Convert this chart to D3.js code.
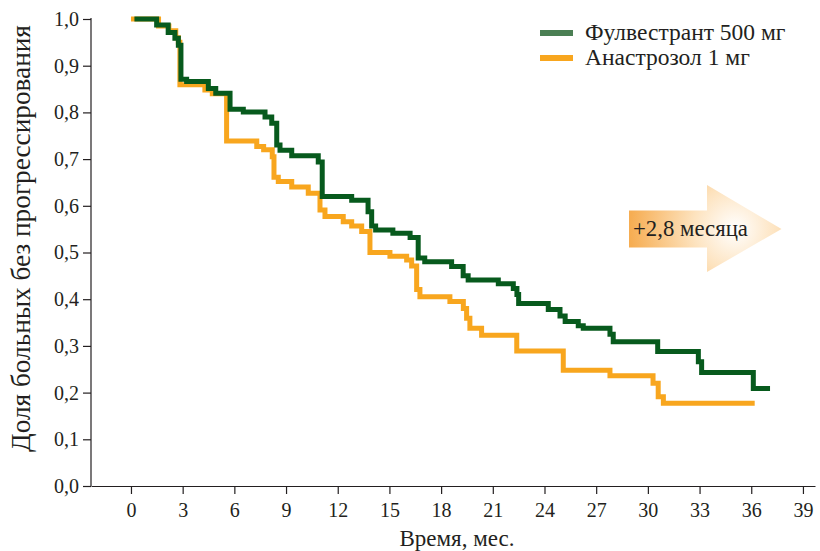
<!DOCTYPE html>
<html><head><meta charset="utf-8">
<script src="https://cdn.jsdelivr.net/npm/d3@7"></script>
<style>
html,body{margin:0;padding:0;background:#fff;}
svg{display:block;}
</style></head>
<body>
<svg id="chart" width="820" height="551"></svg>
<script>
// Data
const seriesNames = ["Фулвестрант 500 мг", "Анастрозол 1 мг"];
const fulvTime = [0.2,1.49,2.16,2.55,2.75,2.9,3.23,4.49,4.92,5.75,6.52,7.78,8.17,8.46,8.65,9.33,10.87,11.1,12.81,13.76,13.97,14.2,15.2,16.2,16.67,17.05,18.61,19.28,19.57,21.32,22.19,22.4,22.5,24.22,24.9,25.2,25.96,26.25,27.8,27.99,30.57,32.93,33.12,36.12,37.09];
const fulvSurv = [1.0,0.987,0.971,0.959,0.944,0.871,0.866,0.851,0.841,0.807,0.801,0.79,0.777,0.73,0.719,0.707,0.694,0.62,0.612,0.587,0.557,0.548,0.541,0.532,0.488,0.48,0.47,0.45,0.441,0.433,0.423,0.41,0.391,0.378,0.364,0.352,0.343,0.338,0.325,0.309,0.288,0.266,0.243,0.209,0.209];
const anasTime = [0,1.6,2.2,2.6,2.75,2.84,4.29,4.72,5.55,7.3,7.7,8.2,8.3,8.55,9.33,10.29,10.97,11.26,12.32,12.81,13.39,13.87,15.03,16.0,16.29,16.58,16.77,18.51,19.29,19.48,19.67,20.35,22.39,25.09,27.8,30.3,30.6,30.9,36.2];
const anasSurv = [1.0,0.985,0.975,0.96,0.95,0.859,0.848,0.84,0.739,0.727,0.72,0.705,0.661,0.652,0.64,0.627,0.591,0.577,0.566,0.557,0.545,0.5,0.492,0.484,0.471,0.421,0.405,0.395,0.38,0.359,0.338,0.323,0.289,0.248,0.236,0.22,0.191,0.177,0.177];
const xTicks = [0,3,6,9,12,15,18,21,24,27,30,33,36,39];
const yTicks = [0,0.1,0.2,0.3,0.4,0.5,0.6,0.7,0.8,0.9,1.0];
const xTitle = "Время, мес.";
const yTitle = "Доля больных без прогрессирования";
const arrowText = "+2,8 месяца";

const FONT = "'Liberation Serif', 'Times New Roman', serif";
const INK = "#231f20";
const colGreen = "#075a1d", colOrange = "#f8a61e", colLegGreen = "#4b7f54";

const svg = d3.select("#chart");
const x = d3.scaleLinear().domain([-2.32, 39.7]).range([91, 815]);
const y = d3.scaleLinear().domain([0, 1]).range([486, 19]);

function styleText(sel, size) {
  sel.attr("style", `font-family:${FONT};font-size:${size}px;fill:${INK}`);
  return sel;
}
// fit a text element to a target width by adjusting its font-size
function fitText(sel, target) {
  const node = sel.node();
  let size = 20;
  styleText(sel, size);
  const w = node.getComputedTextLength();
  if (w > 0) { size = size * target / w; styleText(sel, size); }
  return sel;
}

// axes
const fmt = v => d3.format(".1f")(v).replace(".", ",");
const gy = svg.append("g").attr("transform", "translate(91,0)")
  .call(d3.axisLeft(y).tickValues(yTicks).tickFormat(fmt).tickSize(8).tickSizeOuter(0).tickPadding(4));
const gx = svg.append("g").attr("transform", "translate(0,486)")
  .call(d3.axisBottom(x).tickValues(xTicks).tickFormat(d3.format("d")).tickSize(8).tickSizeOuter(0).tickPadding(9));
[gx, gy].forEach(g => {
  g.attr("font-family", null).attr("font-size", null);
  g.selectAll("path,line").attr("stroke", INK).attr("stroke-width", 1.2);
  g.selectAll("text").each(function(){ styleText(d3.select(this), 20); });
});
gy.select(".domain").attr("d", `M0,${y(1)-1}V486`);

// titles
fitText(svg.append("text").attr("x", 457).attr("y", 546).attr("text-anchor", "middle").text(xTitle), 115);
fitText(svg.append("text").attr("transform", `translate(30,238.5) rotate(-90)`).attr("text-anchor", "middle").text(yTitle), 427);

// curves
const line = d3.line().x(d => x(d[0])).y(d => y(d[1])).curve(d3.curveStepAfter);
const anas = anasTime.map((t, i) => [t, anasSurv[i]]);
const fulv = fulvTime.map((t, i) => [t, fulvSurv[i]]);
svg.append("path").attr("d", line(anas)).attr("fill", "none").attr("stroke", colOrange).attr("stroke-width", 5);
svg.append("path").attr("d", line(fulv)).attr("fill", "none").attr("stroke", colGreen).attr("stroke-width", 5);

// legend
const leg = svg.append("g");
[[colLegGreen, seriesNames[0], 33], [colOrange, seriesNames[1], 58]].forEach(([c, t, yy], i) => {
  leg.append("rect").attr("x", 540).attr("y", yy - 3).attr("width", 33).attr("height", 6).attr("fill", c);
  const tx = leg.append("text").attr("x", 585).attr("y", yy + 7).text(t);
  styleText(tx, 23.5);
});

// arrow
const defs = svg.append("defs");
const grad = defs.append("radialGradient").attr("id", "ag").attr("gradientUnits", "userSpaceOnUse")
  .attr("cx", 735).attr("cy", 229).attr("r", 105).attr("fx", 735).attr("fy", 229);
grad.append("stop").attr("offset", "0%").attr("stop-color", "#ffffff");
grad.append("stop").attr("offset", "40%").attr("stop-color", "#fde3bf");
grad.append("stop").attr("offset", "100%").attr("stop-color", "#f6ad52");
svg.append("path")
  .attr("d", "M629,210.5H707V185L781.5,229L707,272V247.5H629Z")
  .attr("fill", "url(#ag)");
fitText(svg.append("text").attr("x", 633).attr("y", 236).text(arrowText), 115);
</script>
</body></html>
